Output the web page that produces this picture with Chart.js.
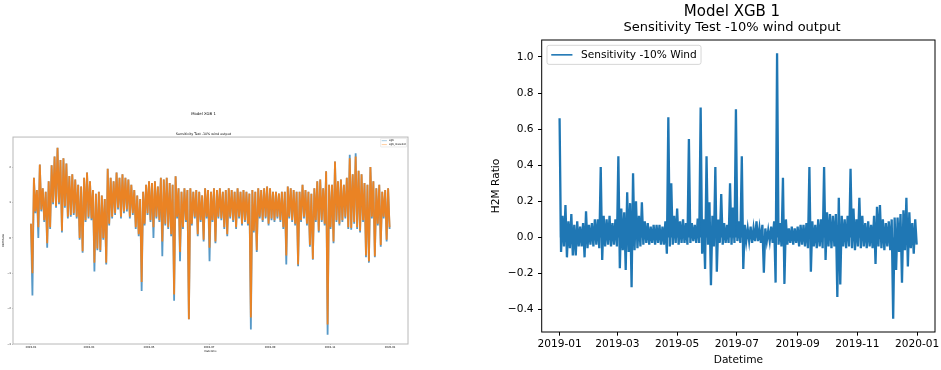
<!DOCTYPE html>
<html>
<head>
<meta charset="utf-8">
<title>Model XGB 1</title>
<script src="https://cdn.jsdelivr.net/npm/chart.js@4/dist/chart.umd.min.js"></script>
<style>
    html, body { margin: 0; padding: 0; background: #fff; }
    body { width: 941px; height: 370px; position: relative; overflow: hidden; }
    .panel { position: absolute; }
    #overviewPanel { left: -1px; top: 100px; width: 410px; height: 260px; }
    #sensitivityPanel { left: 480px; top: 0; width: 504px; height: 370px; }
</style>
</head>
<body>
<div class="panel" id="overviewPanel"><canvas id="overviewChart"></canvas></div>
<div class="panel" id="sensitivityPanel"><canvas id="sensitivityChart"></canvas></div>
<script>
(function () {
    'use strict';

    // Each series is sampled every 3 days from 2019-01-01: a high and a low
    // for the window, drawn as a zig-zag so the hourly band fills in.
    var sampleStart = '2019-01-01';
    var sampleStepDays = 3;
    var monthTicks = ['2019-01', '2019-03', '2019-05', '2019-07', '2019-09', '2019-11', '2020-01'];

    // H2M ratio, baseline model (xgb)
    var xgbHigh = [
        0.4, 1.7, 1.35, 2.07, 1.4, 1.3, 1.6, 2.05, 2.3, 2.55,
        2.2, 2.25, 2.1, 1.75, 1.8, 1.65, 1.5, 1.45, 1.7, 1.85,
        1.6, 1.35, 1.25, 1.3, 1.2, 1.1, 1.95, 1.7, 1.6, 1.85,
        1.7, 1.8, 1.7, 1.65, 1.5, 1.35, 1.2, 1.1, 1.3, 1.5,
        1.6, 1.55, 1.6, 1.45, 1.7, 1.65, 1.7, 1.55, 1.5, 1.74,
        1.4, 1.3, 1.4, 1.35, 1.4, 1.3, 1.35, 1.3, 1.2, 1.4,
        1.35, 1.3, 1.4, 1.35, 1.4, 1.3, 1.35, 1.4, 1.35, 1.3,
        1.4, 1.3, 1.35, 1.3, 1.25, 1.35, 1.3, 1.4, 1.35, 1.4,
        1.45, 1.4, 1.3, 1.3, 1.25, 1.3, 1.3, 1.45, 1.4, 1.35,
        1.3, 1.3, 1.5, 1.35, 1.3, 1.25, 1.4, 1.6, 1.65, 1.4,
        1.88, 1.5, 1.5, 2.16, 1.6, 1.65, 1.5, 1.7, 2.35, 1.8,
        2.39, 1.9, 1.8, 1.55, 1.5, 2.0, 1.6, 1.4, 1.5, 1.3,
        1.35, 1.4
    ];
    var xgbLow = [
        -1.63, 0.7, 0.0, 0.75, 0.45, -0.28, 0.25, 0.95, 0.85, 0.95,
        0.15, 0.85, 0.55, 0.6, 0.65, 0.55, -0.05, -0.42, 0.45, 0.55,
        0.5, -0.95, -0.35, -0.4, -0.05, -0.75, 0.35, 0.55, 0.65, 0.8,
        0.55, 0.7, 0.75, 0.55, 0.65, 0.25, 0.05, -1.5, 0.35, 0.65,
        0.45, 0.0, 0.55, 0.45, -0.52, 0.35, 0.25, 0.05, -1.78, 0.55,
        -0.66, 0.25, 0.45, -2.3, 0.35, 0.55, 0.05, 0.45, -0.1, 0.55,
        -0.66, 0.45, -0.15, 0.55, 0.5, 0.25, 0.05, 0.55, 0.45, 0.25,
        0.55, 0.35, 0.45, 0.35, -2.59, 0.15, -0.4, 0.55, 0.45, 0.55,
        0.35, 0.5, 0.45, 0.55, 0.45, 0.25, -0.75, 0.55, 0.45, 0.35,
        -0.8, 0.45, 0.55, 0.35, -0.25, -0.62, 0.45, 0.15, 0.45, 0.35,
        -2.74, 0.25, -0.15, 0.45, 0.35, 0.45, 0.55, 0.25, 0.23, 0.4,
        0.25, 0.15, 0.45, -0.55, -0.7, 0.55, -0.55, 0.35, -0.25, 0.55,
        -0.1, 0.25
    ];

    // H2M ratio with wind output reduced by 10% (xgb_lowwind)
    var lowWindHigh = [
        0.4, 1.7, 1.35, 2.07, 1.4, 1.3, 1.6, 2.05, 2.3, 2.55,
        2.2, 2.25, 2.1, 1.75, 1.8, 1.65, 1.5, 1.45, 1.7, 1.85,
        1.6, 1.35, 1.25, 1.3, 1.2, 1.1, 1.95, 1.7, 1.6, 1.85,
        1.7, 1.8, 1.7, 1.65, 1.5, 1.35, 1.2, 1.1, 1.3, 1.5,
        1.6, 1.55, 1.6, 1.45, 1.7, 1.65, 1.7, 1.55, 1.5, 1.74,
        1.4, 1.3, 1.4, 1.35, 1.4, 1.3, 1.35, 1.3, 1.2, 1.4,
        1.35, 1.3, 1.4, 1.35, 1.4, 1.3, 1.35, 1.4, 1.35, 1.3,
        1.4, 1.3, 1.35, 1.3, 1.25, 1.35, 1.3, 1.4, 1.35, 1.4,
        1.45, 1.4, 1.3, 1.3, 1.25, 1.3, 1.3, 1.45, 1.4, 1.35,
        1.3, 1.3, 1.5, 1.35, 1.3, 1.25, 1.4, 1.6, 1.65, 1.4,
        1.88, 1.5, 1.5, 2.16, 1.6, 1.65, 1.5, 1.7, 2.25, 1.8,
        2.3, 1.9, 1.8, 1.55, 1.5, 2.0, 1.6, 1.4, 1.5, 1.3,
        1.35, 1.4
    ];
    var lowWindLow = [
        -1.0, 0.75, 0.3, 0.8, 0.5, -0.15, 0.3, 1.0, 0.9, 1.0,
        0.2, 0.9, 0.6, 0.65, 0.7, 0.6, 0.0, -0.38, 0.5, 0.6,
        0.55, -0.7, -0.3, -0.35, 0.0, -0.7, 0.4, 0.6, 0.7, 0.85,
        0.6, 0.75, 0.8, 0.6, 0.7, 0.3, 0.1, -1.25, 0.4, 0.7,
        0.5, 0.3, 0.6, 0.5, -0.1, 0.4, 0.3, 0.1, -1.6, 0.6,
        -0.4, 0.3, 0.5, -2.3, 0.4, 0.6, 0.1, 0.5, -0.05, 0.6,
        -0.28, 0.5, -0.1, 0.6, 0.55, 0.3, 0.1, 0.6, 0.5, 0.3,
        0.6, 0.4, 0.5, 0.4, -2.25, 0.2, -0.35, 0.6, 0.5, 0.6,
        0.4, 0.55, 0.5, 0.6, 0.5, 0.3, -0.5, 0.6, 0.5, 0.4,
        -0.75, 0.5, 0.6, 0.4, -0.2, -0.6, 0.5, 0.2, 0.5, 0.4,
        -2.45, 0.3, -0.1, 0.5, 0.4, 0.5, 0.6, 0.3, 0.28, 0.45,
        0.3, 0.2, 0.5, -0.5, -0.66, 0.6, -0.52, 0.4, -0.2, 0.6,
        -0.05, 0.3
    ];
    var overviewTicks = [-3, -2, -1, 0, 1, 2];

    // Change in H2M ratio under the -10% wind scenario
    var deltaHigh = [
        0.66, 0.12, 0.18, 0.09, 0.13, 0.07, 0.09, 0.06, 0.08, 0.145,
        0.07, 0.08, 0.1, 0.1, 0.39, 0.12, 0.1, 0.12, 0.08, 0.1,
        0.45, 0.16, 0.14, 0.25, 0.19, 0.355, 0.2, 0.12, 0.195, 0.09,
        0.08, 0.06, 0.07, 0.07, 0.07, 0.06, 0.09, 0.665, 0.3, 0.12,
        0.16, 0.09, 0.1, 0.08, 0.545, 0.08, 0.07, 0.105, 0.72, 0.1,
        0.45, 0.195, 0.12, 0.39, 0.1, 0.24, 0.08, 0.07, 0.3, 0.165,
        0.71, 0.09, 0.45, 0.07, 0.05, 0.06, 0.05, 0.09, 0.05, 0.07,
        0.05, 0.04, 0.06, 0.09, 1.02, 0.08, 0.33, 0.1, 0.05, 0.06,
        0.05, 0.06, 0.07, 0.07, 0.08, 0.39, 0.09, 0.07, 0.1, 0.1,
        0.39, 0.14, 0.13, 0.12, 0.13, 0.22, 0.12, 0.1, 0.12, 0.38,
        0.16, 0.1, 0.22, 0.12, 0.08, 0.09, 0.07, 0.12, 0.17, 0.18,
        0.1, 0.08, 0.09, 0.1, 0.11, 0.11, 0.13, 0.15, 0.22, 0.14,
        0.08, 0.1
    ];
    var deltaLow = [
        -0.08, -0.05, -0.11, -0.06, -0.1, -0.1, -0.05, -0.05, -0.11, -0.06,
        -0.04, -0.05, -0.04, -0.06, -0.125, -0.05, -0.04, -0.05, -0.04, -0.05,
        -0.17, -0.07, -0.18, -0.08, -0.275, -0.07, -0.06, -0.05, -0.04, -0.03,
        -0.04, -0.03, -0.04, -0.03, -0.04, -0.04, -0.09, -0.05, -0.04, -0.03,
        -0.04, -0.03, -0.03, -0.04, -0.03, -0.02, -0.03, -0.03, -0.09, -0.175,
        -0.04, -0.265, -0.05, -0.19, -0.03, -0.04, -0.03, -0.03, -0.04, -0.03,
        -0.02, -0.03, -0.175, -0.02, -0.02, -0.03, -0.02, -0.02, -0.03, -0.195,
        -0.02, -0.02, -0.03, -0.25, -0.04, -0.05, -0.257, -0.04, -0.03, -0.04,
        -0.03, -0.05, -0.04, -0.05, -0.06, -0.19, -0.05, -0.06, -0.05, -0.06,
        -0.125, -0.05, -0.06, -0.05, -0.33, -0.26, -0.05, -0.06, -0.05, -0.06,
        -0.07, -0.05, -0.06, -0.05, -0.06, -0.05, -0.06, -0.147, -0.05, -0.06,
        -0.07, -0.05, -0.07, -0.45, -0.18, -0.08, -0.25, -0.07, -0.16, -0.06,
        -0.09, -0.04
    ];
    var deltaTicks = [-0.4, -0.2, 0.0, 0.2, 0.4, 0.6, 0.8, 1.0];

    var DAY = 86400000;
    var FONT = 'DejaVu Sans';

    function stamp(iso) {
        var p = iso.split('-');
        return Date.UTC(+p[0], +p[1] - 1, p[2] ? +p[2] : 1);
    }

    var t0 = stamp(sampleStart);
    // matplotlib pads the date axis by 5% of the span on each side
    var xMin = t0 - 18.25 * DAY;
    var xMax = t0 + 383.2 * DAY;

    function zigzag(high, low) {
        var pts = [];
        for (var i = 0; i < high.length; i++) {
            var t = t0 + i * sampleStepDays * DAY;
            pts.push({ x: t, y: high[i] });
            pts.push({ x: t + sampleStepDays / 2 * DAY, y: low[i] });
        }
        return pts;
    }

    function monthLabel(v) {
        var d = new Date(v);
        var m = d.getUTCMonth() + 1;
        return d.getUTCFullYear() + '-' + (m < 10 ? '0' + m : m);
    }

    function signed(v, digits) {
        var s = Math.abs(v).toFixed(digits);
        return v < 0 ? '\u2212' + s : s;
    }

    function fixedTicks(values) {
        return function (scale) {
            scale.ticks = values.map(function (v) { return { value: v }; });
        };
    }

    // Axes frame plus a boxed legend laid out in matplotlib proportions
    var mplFrame = {
        id: 'mplFrame',
        afterDatasetsDraw: function (chart, args, opts) {
            var ctx = chart.ctx;
            var ca = chart.chartArea;
            ctx.save();
            ctx.strokeStyle = opts.color;
            ctx.lineWidth = opts.width;
            ctx.strokeRect(ca.left, ca.top, ca.right - ca.left, ca.bottom - ca.top);

            var fs = opts.legendFont;
            var sets = chart.data.datasets;
            ctx.font = fs + 'px "' + FONT + '"';
            var textW = 0;
            sets.forEach(function (d) { textW = Math.max(textW, ctx.measureText(d.label).width); });
            var boxW = fs * 3.6 + textW;
            var boxH = fs * 0.8 + sets.length * fs + (sets.length - 1) * fs * 0.5;
            var bx = opts.legendCorner === 'right' ? ca.right - fs * 0.5 - boxW : ca.left + fs * 0.5;
            var by = ca.top + fs * 0.5;

            ctx.beginPath();
            ctx.roundRect(bx, by, boxW, boxH, fs * 0.2);
            ctx.fillStyle = 'rgba(255, 255, 255, 0.8)';
            ctx.fill();
            ctx.strokeStyle = 'rgba(204, 204, 204, 0.8)';
            ctx.lineWidth = opts.legendEdge;
            ctx.stroke();

            ctx.textBaseline = 'middle';
            ctx.textAlign = 'left';
            sets.forEach(function (d, i) {
                var cy = by + fs * 0.4 + i * fs * 1.5 + fs / 2;
                ctx.beginPath();
                ctx.moveTo(bx + fs * 0.4, cy);
                ctx.lineTo(bx + fs * 2.4, cy);
                ctx.strokeStyle = d.legendColor || d.borderColor;
                ctx.lineWidth = opts.handleWidth;
                ctx.stroke();
                ctx.fillStyle = opts.textColor;
                ctx.fillText(d.label, bx + fs * 3.2, cy);
            });
            ctx.restore();
        }
    };

    Chart.defaults.font.family = FONT;
    Chart.defaults.color = '#000';

    // Overview: both model runs across 2019, the low-wind run on top
    new Chart(document.getElementById('overviewChart').getContext('2d'), {
        type: 'line',
        data: {
            datasets: [{
                label: 'xgb',
                data: zigzag(xgbHigh, xgbLow),
                borderColor: 'rgba(31, 119, 180, 0.75)',
                legendColor: 'rgba(31, 119, 180, 0.5)',
                borderWidth: 1.8,
                pointRadius: 0,
                order: 2
            }, {
                label: 'xgb_lowwind',
                data: zigzag(lowWindHigh, lowWindLow),
                borderColor: 'rgba(255, 127, 14, 0.88)',
                legendColor: 'rgba(255, 127, 14, 0.5)',
                borderWidth: 1.8,
                pointRadius: 0,
                order: 1
            }]
        },
        options: {
            responsive: true,
            maintainAspectRatio: false,
            animation: false,
            layout: { padding: { right: 1 } },
            plugins: {
                legend: { display: false },
                tooltip: { enabled: false },
                title: {
                    display: true,
                    text: 'Model XGB 1',
                    font: { size: 3.85, weight: 'normal', lineHeight: 1 },
                    padding: { top: 12.4, bottom: 0 }
                },
                subtitle: {
                    display: true,
                    text: 'Sensitivity Test -10% wind output',
                    color: '#000',
                    font: { size: 3.3, lineHeight: 1 },
                    padding: { top: 16.45, bottom: 1.05 }
                },
                mplFrame: { color: '#b8b8b8', width: 1, legendFont: 2.6, legendEdge: 0.5, handleWidth: 0.8, legendCorner: 'right', textColor: '#000' }
            },
            scales: {
                x: {
                    type: 'linear',
                    min: xMin,
                    max: xMax,
                    afterBuildTicks: fixedTicks(monthTicks.map(stamp)),
                    afterFit: function (scale) { scale.height = 16; },
                    ticks: { callback: monthLabel, font: { size: 2.6 }, padding: 0.7, maxRotation: 0, autoSkip: false },
                    grid: { drawOnChartArea: false, tickLength: 1, tickColor: '#888', tickWidth: 0.5 },
                    border: { display: false },
                    title: { display: true, text: 'Datetime', font: { size: 2.6 }, padding: { top: 0, bottom: 6.7 } }
                },
                y: {
                    min: -3.0,
                    max: 2.85,
                    afterBuildTicks: fixedTicks(overviewTicks),
                    afterFit: function (scale) { scale.width = 14; },
                    ticks: { callback: function (v) { return signed(v, 0); }, font: { size: 2.6 }, padding: 1 },
                    grid: { drawOnChartArea: false, tickLength: 1, tickColor: '#888', tickWidth: 0.5 },
                    border: { display: false },
                    title: { display: true, text: 'H2M Ratio', font: { size: 2.6 }, padding: { top: 2.74, bottom: 0 } }
                }
            }
        },
        plugins: [mplFrame]
    });

    // Sensitivity: difference between the two runs
    new Chart(document.getElementById('sensitivityChart').getContext('2d'), {
        type: 'line',
        data: {
            datasets: [{
                label: 'Sensitivity -10% Wind',
                data: zigzag(deltaHigh, deltaLow),
                borderColor: '#1f77b4',
                backgroundColor: '#1f77b4',
                borderWidth: 2.3,
                fill: { value: 0 },
                pointRadius: 0
            }]
        },
        options: {
            responsive: true,
            maintainAspectRatio: false,
            animation: false,
            plugins: {
                legend: { display: false },
                tooltip: { enabled: false },
                title: {
                    display: true,
                    text: 'Model XGB 1',
                    font: { size: 15, weight: 'normal', lineHeight: 1 },
                    padding: { top: 4.5, bottom: 0 }
                },
                subtitle: {
                    display: true,
                    text: 'Sensitivity Test -10% wind output',
                    color: '#000',
                    font: { size: 13, lineHeight: 1 },
                    padding: { top: 2, bottom: 5.5 }
                },
                mplFrame: { color: '#000', width: 1, legendFont: 10.6, legendEdge: 1, handleWidth: 1.6, legendCorner: 'left', textColor: '#000' }
            },
            scales: {
                x: {
                    type: 'linear',
                    min: xMin,
                    max: xMax,
                    afterBuildTicks: fixedTicks(monthTicks.map(stamp)),
                    afterFit: function (scale) { scale.height = 38; },
                    ticks: { callback: monthLabel, font: { size: 10.6 }, padding: 2, maxRotation: 0, autoSkip: false },
                    grid: { drawOnChartArea: false, tickLength: 3.7, tickColor: '#000', tickWidth: 1 },
                    border: { display: false },
                    title: { display: true, text: 'Datetime', font: { size: 10.6 }, padding: { top: 0, bottom: 3.7 } }
                },
                y: {
                    min: -0.5235,
                    max: 1.0935,
                    afterBuildTicks: fixedTicks(deltaTicks),
                    afterFit: function (scale) { scale.width = 61.7; },
                    ticks: { callback: function (v) { return signed(v, 1); }, font: { size: 10.6 }, padding: 4.5 },
                    grid: { drawOnChartArea: false, tickLength: 3.7, tickColor: '#000', tickWidth: 1 },
                    border: { display: false },
                    title: { display: true, text: 'H2M Ratio', font: { size: 10.6 }, padding: { top: 9.6, bottom: 0 } }
                },
                // reserves the figure's right margin so the titles centre on the figure
                margin: {
                    position: 'right',
                    ticks: { display: false },
                    grid: { display: false },
                    border: { display: false },
                    afterFit: function (scale) { scale.width = 49; }
                }
            }
        },
        plugins: [mplFrame]
    });
})();
</script>
</body>
</html>
